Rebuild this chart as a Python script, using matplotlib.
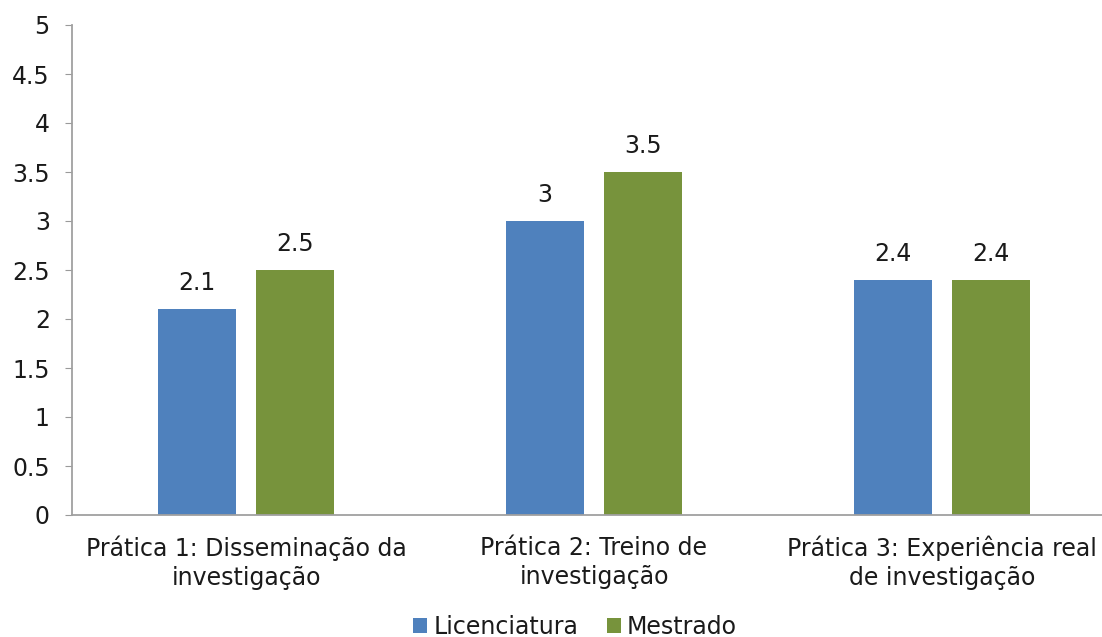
import matplotlib
matplotlib.use("Agg")
import matplotlib.pyplot as plt
import numpy as np

categories = ["Prática 1: Disseminação da\ninvestigação", "Prática 2: Treino de\ninvestigação", "Prática 3: Experiência real\nde investigação"]
licenciatura = [2.1, 3.0, 2.4]
mestrado = [2.5, 3.5, 2.4]
series_names = ["Licenciatura", "Mestrado"]
yticks = [0, 0.5, 1, 1.5, 2, 2.5, 3, 3.5, 4, 4.5, 5]
ytick_labels = ["0", "0.5", "1", "1.5", "2", "2.5", "3", "3.5", "4", "4.5", "5"]

plt.rcParams['font.family'] = ['DejaVu Sans']
FS = 17
fig = plt.figure(figsize=(11.02, 6.37), dpi=100)
ax = fig.add_axes([72/1102, 1-515/637, 1044/1102, 490/637])

x = np.arange(len(categories))
w = 0.222
off = 0.141
b1 = ax.bar(x - off, licenciatura, w, color="#4F81BD", label=series_names[0])
b2 = ax.bar(x + off, mestrado, w, color="#77933C", label=series_names[1])
for bars, vals in ((b1, licenciatura), (b2, mestrado)):
    for r, v in zip(bars, vals):
        lab = f"{v:g}"
        ax.annotate(lab, (r.get_x() + r.get_width()/2, v), xytext=(0, 10), textcoords="offset points",
                    ha="center", va="bottom", fontsize=FS, color="#1a1a1a")

ax.set_xlim(-0.5, 2.5)
ax.set_ylim(0, 5)
ax.set_yticks(yticks)
ax.set_yticklabels(ytick_labels, fontsize=FS, color="#1a1a1a")
ax.set_xticks(x)
ax.set_xticklabels(categories, fontsize=FS, color="#1a1a1a", linespacing=1.25)
ax.tick_params(axis="x", length=0, pad=15)
ax.tick_params(axis="y", length=5, color="#9a9a9a", pad=11)
for s in ["top", "right"]:
    ax.spines[s].set_visible(False)
for s in ["left", "bottom"]:
    ax.spines[s].set_color("#a0a0a0")
    ax.spines[s].set_linewidth(1.3)

leg = fig.legend(handles=[b1, b2], labels=series_names, loc="lower center", ncol=2,
           bbox_to_anchor=(575/1102, -0.036), frameon=False, fontsize=FS,
           handlelength=0.6, handleheight=0.6, handletextpad=0.25, columnspacing=1.2)
for t in leg.get_texts():
    t.set_color("#1a1a1a")

fig.savefig("out.png", dpi=100)
